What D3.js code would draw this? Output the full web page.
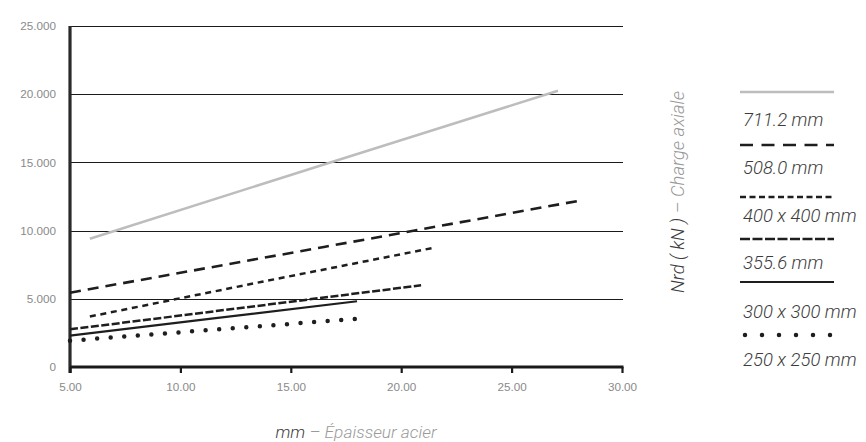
<!DOCTYPE html>
<html>
<head>
<meta charset="utf-8">
<script src="https://cdn.jsdelivr.net/npm/d3@7"></script>
<style>
  body { margin: 0; background: #fff; }
  svg { display: block; font-family: Roboto, "Open Sans", sans-serif; }
</style>
</head>
<body>
<svg></svg>
<script>
// size of the svg
var width = 866;
var height = 442;
var margin = {top: 26, right: 244, bottom: 75, left: 70};

// series names (legend order)
var seriesNames = ["711.2 mm", "508.0 mm", "400 x 400 mm", "355.6 mm", "300 x 300 mm", "250 x 250 mm"];

// steel thickness (mm) and Nrd (kN)
var t711 = [5.9, 16.5, 27.1];
var n711 = [9400, 14850, 20250];
var t508 = [5.0, 16.5, 28.1];
var n508 = [5450, 8800, 12200];
var t400 = [5.9, 13.7, 21.5];
var n400 = [3700, 6250, 8750];
var t355 = [5.0, 13.0, 20.9];
var n355 = [2760, 4380, 5990];
var t300 = [5.0, 11.5, 18.0];
var n300 = [2300, 3560, 4820];
var t250 = [5.0, 11.4, 17.9];
var n250 = [1930, 2720, 3520];

var xTicks = [5, 10, 15, 20, 25, 30];
var yTicks = [0, 5000, 10000, 15000, 20000, 25000];

var thickness = [t711, t508, t400, t355, t300, t250];
var nrd = [n711, n508, n400, n355, n300, n250];

// line styles for each series
var styles = [
  {color: "#bdbdbd", w: 2.5, dash: null, legendDash: null, cap: "butt"},
  {color: "#1e1e1e", w: 2.6, dash: "11,7", legendDash: "13,8.5", cap: "butt"},
  {color: "#1e1e1e", w: 2.5, dash: "6,4.7", legendDash: "6,3.5", cap: "butt"},
  {color: "#1e1e1e", w: 2.5, dash: "8,2.5", legendDash: "10,2.5", cap: "butt"},
  {color: "#1e1e1e", w: 2.2, dash: null, legendDash: null, cap: "butt"},
  {color: "#1e1e1e", w: 4.5, dash: "0,13.6", legendDash: "0,17", cap: "round"}
];

var series = seriesNames.map(function (name, i) {
  return {
    name: name,
    style: styles[i],
    points: thickness[i].map(function (t, j) { return [t, nrd[i][j]]; })
  };
});

var svg = d3.select("svg").attr("width", width).attr("height", height);

// scales
var xScale = d3.scaleLinear().domain([5, 30]).range([margin.left, width - margin.right]);
var yScale = d3.scaleLinear().domain([0, 25000]).range([height - margin.bottom, margin.top]);

var euro = d3.formatLocale({decimal: ",", thousands: ".", grouping: [3], currency: ["", "€"]});
var yFmt = euro.format(",");
var xFmt = d3.format(".2f");

// gridlines
svg.append("g")
  .selectAll("line")
  .data(yTicks.filter(function (d) { return d > 0; }))
  .enter().append("line")
  .attr("x1", xScale(5)).attr("x2", xScale(30) + 1)
  .attr("y1", function (d) { return Math.round(yScale(d)) + 0.5; })
  .attr("y2", function (d) { return Math.round(yScale(d)) + 0.5; })
  .attr("stroke", "#1a1a1a").attr("stroke-width", 1.1);

// y axis
var y_Axis = d3.axisLeft(yScale).tickValues(yTicks).tickSize(0).tickPadding(14).tickFormat(yFmt);
var gy = svg.append("g").attr("transform", "translate(" + xScale(5) + ",0)").call(y_Axis);
gy.select(".domain").remove();
gy.selectAll("text").attr("fill", "#8a8a8a").style("font-size", "11.7px").style("font-weight", 300);
svg.append("line")
  .attr("x1", xScale(5)).attr("x2", xScale(5))
  .attr("y1", yScale(25000)).attr("y2", yScale(0) + 6)
  .attr("stroke", "#2a2a2a").attr("stroke-width", 3.2);

// x axis
var x_Axis = d3.axisBottom(xScale).tickValues(xTicks).tickSize(6).tickPadding(10).tickFormat(xFmt);
var gx = svg.append("g").attr("transform", "translate(0," + yScale(0) + ")").call(x_Axis);
gx.select(".domain").attr("stroke", "#1a1a1a").attr("stroke-width", 3.2).attr("d", "M" + xScale(5) + ",0H" + (xScale(30) + 1.5));
gx.selectAll(".tick line").attr("stroke", "#1a1a1a").attr("stroke-width", 2.2);
gx.selectAll("text").attr("fill", "#8a8a8a").style("font-size", "11.7px").style("font-weight", 300);

// series lines
var line = d3.line()
  .x(function (d) { return xScale(d[0]); })
  .y(function (d) { return yScale(d[1]); });

svg.append("g")
  .selectAll("path")
  .data(series)
  .enter().append("path")
  .attr("d", function (d) { return line(d.points); })
  .attr("fill", "none")
  .attr("stroke", function (d) { return d.style.color; })
  .attr("stroke-width", function (d) { return d.style.w; })
  .attr("stroke-dasharray", function (d) { return d.style.dash; })
  .attr("stroke-linecap", function (d) { return d.style.cap; });

// y axis title (rotated, right side)
var yTitle = svg.append("text")
  .attr("transform", "translate(684,192) rotate(-90)")
  .attr("text-anchor", "middle")
  .style("font-size", "18.5px").style("font-style", "italic").style("font-weight", 300);
yTitle.append("tspan").attr("fill", "#3c3c3c").text("Nrd ( kN )");
yTitle.append("tspan").attr("fill", "#9a9a9a").text(" – Charge axiale");

// x axis title
var xTitle = svg.append("text")
  .attr("x", 356).attr("y", 438)
  .attr("text-anchor", "middle")
  .style("font-size", "17.3px").style("font-style", "italic").style("font-weight", 300);
xTitle.append("tspan").attr("fill", "#3c3c3c").text("mm");
xTitle.append("tspan").attr("fill", "#9a9a9a").text(" – Épaisseur acier");

// legend
var legendLineY = [92, 145, 197, 239, 282, 335];
var legendTextY = [126, 174, 222, 269, 318, 366];
var legend = svg.append("g");
series.forEach(function (s, i) {
  legend.append("line")
    .attr("x1", s.style.cap === "round" ? 745 : 740).attr("x2", 834)
    .attr("y1", legendLineY[i]).attr("y2", legendLineY[i])
    .attr("stroke", s.style.color)
    .attr("stroke-width", s.style.w)
    .attr("stroke-dasharray", s.style.legendDash)
    .attr("stroke-linecap", s.style.cap);
  legend.append("text")
    .attr("x", 743).attr("y", legendTextY[i])
    .attr("fill", "#3c3c3c")
    .style("font-size", "18.5px").style("font-style", "italic").style("font-weight", 300)
    .text(s.name);
});
</script>
</body>
</html>
